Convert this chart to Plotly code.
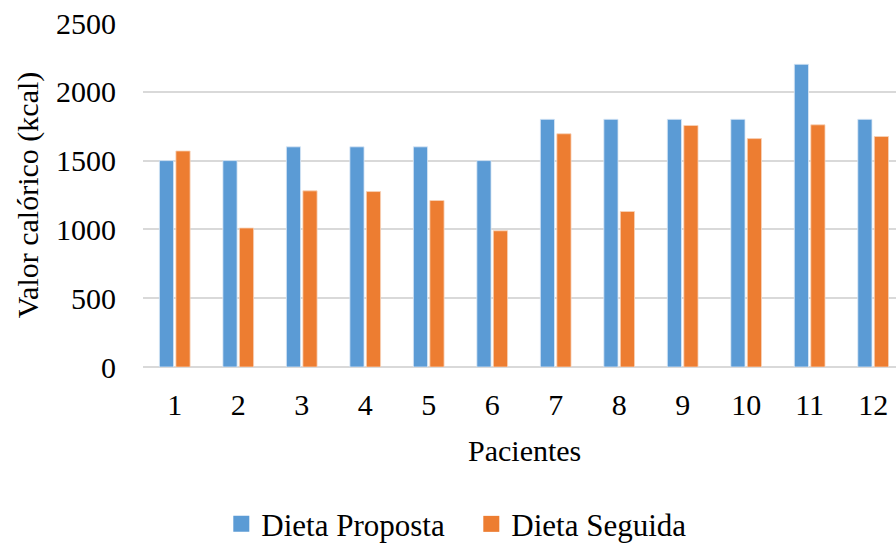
import plotly.graph_objects as go

pacientes = ["1", "2", "3", "4", "5", "6", "7", "8", "9", "10", "11", "12"]
dieta_proposta = [1500, 1500, 1600, 1600, 1600, 1500, 1800, 1800, 1800, 1800, 2200, 1800]
dieta_seguida = [1570, 1010, 1280, 1275, 1210, 990, 1695, 1130, 1755, 1660, 1760, 1675]

series = [
    ("Dieta Proposta", dieta_proposta, "#5B9BD5", "#DCE9F6"),
    ("Dieta Seguida", dieta_seguida, "#ED7D31", "#F8D3BA"),
]

FONT = "Liberation Serif"
SIZE = 30

fig = go.Figure()
for name, values, color, edge in series:
    fig.add_trace(go.Bar(
        x=pacientes, y=values, name=name, showlegend=False,
        marker=dict(color=color, line=dict(color=edge, width=0.8)),
    ))
# legend entries with larger square swatches
for name, values, color, edge in series:
    fig.add_trace(go.Scatter(
        x=[None], y=[None], mode="markers", name=name,
        marker=dict(symbol="square", size=16, color=color),
    ))

fig.update_layout(
    width=896, height=549,
    margin=dict(l=143, r=0, t=23, b=182, autoexpand=False),
    paper_bgcolor="white", plot_bgcolor="white",
    barmode="group", bargap=0.48, bargroupgap=0.14,
    font=dict(family=FONT, size=SIZE, color="black"),
    legend=dict(
        orientation="h", x=0.436, xanchor="center", y=-0.457, yanchor="middle",
        font=dict(family=FONT, size=31, color="black"),
        itemwidth=30, traceorder="normal",
        entrywidth=205, entrywidthmode="pixels",
    ),
    showlegend=True,
)

fig.update_xaxes(
    type="category", range=[-0.5, 11.36],
    showgrid=False, showline=False, ticks="",
    tickfont=dict(family=FONT, size=SIZE), ticklabelstandoff=17,
)
fig.update_yaxes(
    range=[0, 2500], tickvals=[0, 500, 1000, 1500, 2000, 2500],
    showgrid=True, gridcolor="#D9D9D9", gridwidth=1.5,
    zeroline=True, zerolinecolor="#D9D9D9", zerolinewidth=1.5,
    showline=False, ticks="",
    tickfont=dict(family=FONT, size=SIZE), ticklabelstandoff=26,
    title=dict(text="Valor calórico (kcal)", font=dict(family=FONT, size=SIZE), standoff=8),
)

fig.add_annotation(
    text="Pacientes", xref="paper", yref="paper", x=0.506, y=-0.243,
    xanchor="center", yanchor="middle", showarrow=False,
    font=dict(family=FONT, size=SIZE, color="black"),
)

fig.write_html("out.html")
